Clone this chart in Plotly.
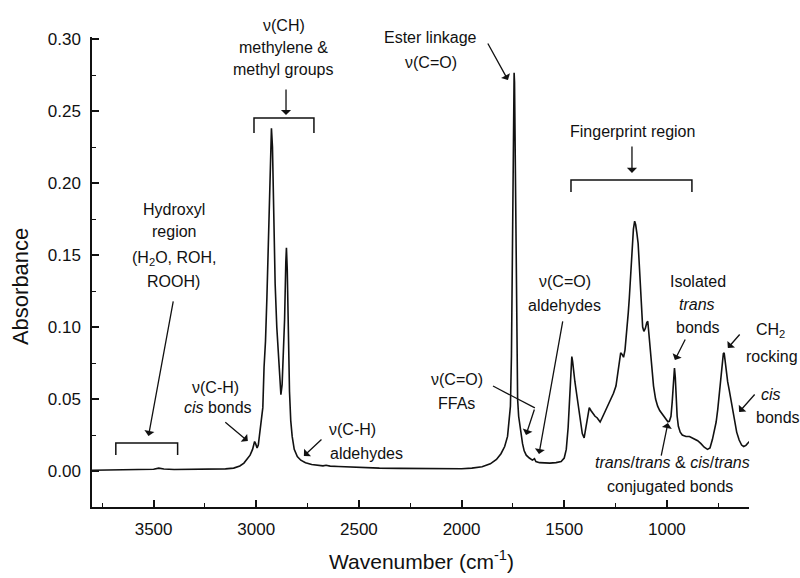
import plotly.graph_objects as go

# FTIR absorbance spectrum of an edible oil (wavenumber in cm^-1)
wavenumber = [
    3800, 3750, 3700, 3650, 3600, 3550, 3500, 3475, 3450, 3400, 3350, 3300, 3250,
    3200, 3150, 3110, 3080, 3060, 3045, 3030, 3018, 3008, 3003, 2996, 2990, 2982,
    2975, 2968, 2962, 2955, 2948, 2940, 2932, 2926, 2921, 2915, 2908, 2900, 2893,
    2886, 2880, 2874, 2868, 2862, 2856, 2853, 2849, 2844, 2838, 2832, 2825, 2815,
    2800, 2783, 2760, 2730, 2700, 2675, 2660, 2640, 2600, 2550, 2500, 2400, 2300,
    2200, 2100, 2000, 1950, 1900, 1860, 1830, 1808, 1790, 1776, 1768, 1762, 1757,
    1753, 1749, 1746, 1744, 1742, 1739, 1735, 1731, 1727, 1722, 1717, 1710, 1703,
    1695, 1685, 1670, 1655, 1645, 1638, 1620, 1600, 1570, 1540, 1515, 1500, 1490,
    1481, 1474, 1468, 1463, 1459, 1453, 1448, 1440, 1430, 1420, 1412, 1403, 1395,
    1386, 1378, 1370, 1362, 1350, 1340, 1325, 1315, 1305, 1290, 1273, 1260, 1248,
    1240, 1232, 1225, 1218, 1211, 1204, 1196, 1188, 1183, 1176, 1170, 1163, 1157,
    1152, 1146, 1140, 1135, 1130, 1124, 1118, 1112, 1105, 1098, 1093, 1088, 1081,
    1073, 1065, 1055, 1045, 1035, 1021, 1005, 995, 988, 980, 974, 968, 963, 959,
    955, 950, 944, 935, 925, 907, 890, 867, 850, 834, 818, 802, 790, 778, 769, 760,
    752, 745, 738, 731, 725, 721, 716, 710, 704, 696, 688, 680, 672, 660, 648, 636,
    626, 615, 605, 598,
]
absorbance = [
    0.0005, 0.0006, 0.0007, 0.0008, 0.0008, 0.0010, 0.0012, 0.0020, 0.0014, 0.0010,
    0.0010, 0.0010, 0.0011, 0.0012, 0.0015, 0.0020, 0.0035, 0.0055, 0.0080, 0.0110,
    0.0150, 0.0205, 0.0190, 0.0160, 0.0180, 0.0280, 0.0360, 0.0440, 0.0720, 0.0900,
    0.1210, 0.1650, 0.2100, 0.2380, 0.2250, 0.1700, 0.1300, 0.1000, 0.0800, 0.0620,
    0.0530, 0.0600, 0.0780, 0.1050, 0.1450, 0.1550, 0.1400, 0.0950, 0.0550, 0.0350,
    0.0240, 0.0150, 0.0100, 0.0075, 0.0058, 0.0045, 0.0040, 0.0036, 0.0040, 0.0034,
    0.0031, 0.0028, 0.0024, 0.0020, 0.0018, 0.0016, 0.0015, 0.0016, 0.0020, 0.0030,
    0.0050, 0.0080, 0.0120, 0.0170, 0.0240, 0.0340, 0.0450, 0.0800, 0.1400, 0.2200,
    0.2700, 0.2765, 0.2700, 0.2300, 0.1500, 0.0800, 0.0500, 0.0380, 0.0320, 0.0270,
    0.0190, 0.0140, 0.0110, 0.0090, 0.0076, 0.0085, 0.0065, 0.0058, 0.0055, 0.0055,
    0.0058, 0.0065, 0.0090, 0.0150, 0.0300, 0.0500, 0.0700, 0.0795, 0.0760, 0.0650,
    0.0620, 0.0540, 0.0430, 0.0330, 0.0260, 0.0230, 0.0300, 0.0400, 0.0440, 0.0420,
    0.0405, 0.0380, 0.0370, 0.0340, 0.0370, 0.0400, 0.0440, 0.0490, 0.0540, 0.0590,
    0.0680, 0.0760, 0.0820, 0.0810, 0.0790, 0.0840, 0.0950, 0.1100, 0.1200, 0.1380,
    0.1530, 0.1680, 0.1735, 0.1710, 0.1650, 0.1580, 0.1450, 0.1300, 0.1120, 0.1000,
    0.0970, 0.0990, 0.1030, 0.1040, 0.0960, 0.0840, 0.0700, 0.0590, 0.0500, 0.0450,
    0.0420, 0.0390, 0.0360, 0.0342, 0.0345, 0.0380, 0.0480, 0.0640, 0.0715, 0.0650,
    0.0500, 0.0380, 0.0310, 0.0270, 0.0250, 0.0240, 0.0240, 0.0225, 0.0210, 0.0190,
    0.0165, 0.0150, 0.0160, 0.0220, 0.0280, 0.0340, 0.0430, 0.0530, 0.0650, 0.0760,
    0.0815, 0.0820, 0.0760, 0.0680, 0.0620, 0.0560, 0.0490, 0.0420, 0.0350, 0.0270,
    0.0215, 0.0180, 0.0170, 0.0178, 0.0195, 0.0205,
]

X_RANGE = [3800, 600]
Y_RANGE = [-0.025, 0.3014]
FONT = "Liberation Sans, Arial, Helvetica, sans-serif"


def xp(w):
    return (X_RANGE[0] - w) / (X_RANGE[0] - X_RANGE[1])


def yp(a):
    return (a - Y_RANGE[0]) / (Y_RANGE[1] - Y_RANGE[0])


# band labels, one entry per text line: (text, wavenumber, absorbance, anchor)
label_lines = [
    ("ν(CH)", 2865, 0.3097, "center"),
    ("methylene &", 2865, 0.2938, "center"),
    ("methyl groups", 2865, 0.2785, "center"),
    ("Ester linkage", 2149, 0.3014, "center"),
    ("ν(C=O)", 2149, 0.2840, "center"),
    ("Fingerprint region", 1165, 0.2356, "center"),
    ("Hydroxyl", 3401, 0.1813, "center"),
    ("region", 3401, 0.1660, "center"),
    ("(H<sub>2</sub>O, ROH,", 3401, 0.1479, "center"),
    ("ROOH)", 3401, 0.1313, "center"),
    ("ν(C-H)", 3197, 0.0583, "center"),
    ("<i>cis</i> bonds", 3184, 0.0438, "center"),
    ("ν(C-H)", 2656, 0.0285, "left"),
    ("aldehydes", 2649, 0.0125, "left"),
    ("ν(C=O)", 1497, 0.1313, "center"),
    ("aldehydes", 1497, 0.1146, "center"),
    ("ν(C=O)", 2023, 0.0632, "center"),
    ("FFAs", 2023, 0.0472, "center"),
    ("Isolated", 849, 0.1313, "center"),
    ("<i>trans</i>", 854, 0.1153, "center"),
    ("bonds", 849, 0.1000, "center"),
    ("CH<sub>2</sub>", 493, 0.0979, "center"),
    ("rocking", 488, 0.0792, "center"),
    ("<i>cis</i>", 493, 0.0528, "center"),
    ("bonds", 459, 0.0375, "center"),
    ("<i>trans</i>/<i>trans</i> & <i>cis</i>/<i>trans</i>", 975, 0.0056, "center"),
    ("conjugated bonds", 985, -0.0111, "center"),
]

# pointer arrows: (head wavenumber, head absorbance, tail wavenumber, tail absorbance)
pointers = [
    (2855, 0.2472, 2855, 0.2660),
    (1774, 0.2715, 1876, 0.2979),
    (1170, 0.2070, 1170, 0.2264),
    (3525, 0.0243, 3403, 0.1188),
    (3041, 0.0208, 3158, 0.0347),
    (2768, 0.0104, 2675, 0.0229),
    (1623, 0.0118, 1506, 0.1049),
    (1686, 0.0250, 1643, 0.0438),
    (961, 0.0771, 907, 0.0924),
    (703, 0.0854, 639, 0.0958),
    (648, 0.0410, 566, 0.0542),
    (995, 0.0333, 1029, 0.0097),
]

# region brackets: (left wavenumber, right wavenumber, top absorbance, foot absorbance)
brackets = [
    (3011, 2719, 0.2451, 0.2347),
    (1467, 878, 0.2021, 0.1938),
    (3684, 3383, 0.0194, 0.0111),
]

# leader line from the FFA label to its pointer
ffa_leader = (1847, 0.0590, 1643, 0.0438)

fig = go.Figure()
fig.add_trace(go.Scatter(
    x=wavenumber, y=absorbance, mode="lines",
    line=dict(color="#111111", width=1.6),
    hoverinfo="skip", showlegend=False,
))

annotations = []
for text, w, a, anchor in label_lines:
    annotations.append(dict(
        text=text, xref="paper", yref="paper", x=xp(w), y=yp(a),
        xanchor=anchor, yanchor="middle", showarrow=False,
        font=dict(family=FONT, size=16, color="#111111"),
    ))

for hw, ha, tw, ta in pointers:
    annotations.append(dict(
        text="", x=hw, y=ha, ax=tw, ay=ta, xref="x", yref="y",
        axref="x", ayref="y", showarrow=True, arrowhead=1,
        arrowsize=1.3, arrowwidth=1.3, arrowcolor="#111111", standoff=0,
    ))

annotations.append(dict(
    text="Absorbance", xref="paper", yref="paper", x=-0.1096, y=0.470,
    textangle=-90, showarrow=False, xanchor="center", yanchor="middle",
    font=dict(family=FONT, size=22, color="#111111"),
))
annotations.append(dict(
    text="Wavenumber (cm<sup>-1</sup>)", xref="paper", yref="paper",
    x=0.5008, y=-0.1128, showarrow=False, xanchor="center", yanchor="middle",
    font=dict(family=FONT, size=21, color="#111111"),
))

shapes = []
for wl, wr, top, foot in brackets:
    shapes.append(dict(
        type="path", xref="x", yref="y",
        path=f"M {wl},{foot} L {wl},{top} L {wr},{top} L {wr},{foot}",
        line=dict(color="#111111", width=1.5),
    ))
x0, y0, x1, y1 = ffa_leader
shapes.append(dict(type="line", xref="x", yref="y", x0=x0, y0=y0, x1=x1, y1=y1,
                   line=dict(color="#111111", width=1.3)))

axis_common = dict(
    showline=True, linecolor="#111111", linewidth=1.5, mirror=False,
    showgrid=False, zeroline=False, ticks="inside", tickcolor="#111111",
    tickwidth=1.5, ticklen=7,
    tickfont=dict(family=FONT, size=17, color="#111111"),
)

fig.update_layout(
    width=800, height=578,
    margin=dict(l=92, r=51, t=37, b=71),
    paper_bgcolor="white", plot_bgcolor="white",
    xaxis=dict(range=X_RANGE, tick0=0, dtick=500, ticklabelstandoff=6,
               minor=dict(ticks="inside", dtick=250, ticklen=4, tickcolor="#111111",
                          tickwidth=1.2),
               **axis_common),
    yaxis=dict(range=Y_RANGE, tick0=0, dtick=0.05, tickformat=".2f",
               ticklabelstandoff=6,
               minor=dict(ticks="inside", dtick=0.025, ticklen=4, tickcolor="#111111",
                          tickwidth=1.2),
               **axis_common),
    annotations=annotations,
    shapes=shapes,
)

fig.write_html("out.html")
